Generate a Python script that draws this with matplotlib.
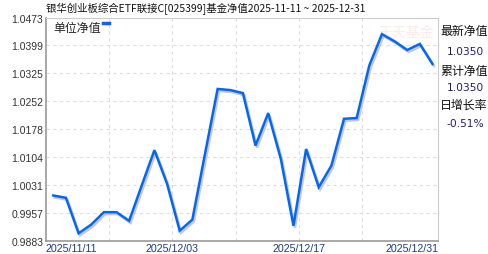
import matplotlib
matplotlib.use("Agg")
import matplotlib.pyplot as plt
import matplotlib.transforms as mtransforms

# unit NAV, one value per published day
nav = [1.0002, 0.9996, 0.9902, 0.9925, 0.9958, 0.9958, 0.9935, 1.0029, 1.0122, 1.0033,
       0.9909, 0.9938, 1.0112, 1.0284, 1.0281, 1.0273, 1.0134, 1.0220, 1.0099, 0.9922,
       1.0125, 1.0024, 1.0081, 1.0205, 1.0207, 1.0346, 1.0429, 1.0410, 1.0387, 1.0403,
       1.0350]
x_labels = ["2025/11/11", "2025/12/03", "2025/12/17", "2025/12/31"]
y_ticks = [0.9883, 0.9957, 1.0031, 1.0104, 1.0178, 1.0252, 1.0325, 1.0399, 1.0473]
side_labels = ["最新净值", "累计净值", "日增长率"]
side_values = ["1.0350", "1.0350", "-0.51%"]

cjk = ["Noto Sans CJK SC", "DejaVu Sans"]
latin = ["Liberation Sans", "DejaVu Sans"]

fig = plt.figure(figsize=(4.88, 2.55), dpi=100)
ax = fig.add_axes([46 / 488, 1 - 241.5 / 255, 392 / 488, 223 / 255])

xs = list(range(len(nav)))
shadow = mtransforms.offset_copy(ax.transData, fig=fig, x=1.5, y=-2, units="dots")
ax.plot(xs, nav, color="#c8c8c8", lw=1.8, transform=shadow, solid_joinstyle="miter")
ax.plot(xs, nav, color="#0066ff", lw=1.8, solid_joinstyle="miter")

ax.set_xlim(-0.578, 30.435)
ax.set_ylim(y_ticks[0], y_ticks[-1])
ax.set_yticks(y_ticks)
ax.set_yticklabels([f"{v:.4f}" for v in y_ticks], family=latin, fontsize=7.5, color="#333333")
ax.tick_params(length=0, pad=2)

# dashed grid
for v in y_ticks[1:-1]:
    ax.axhline(v, color="#dddddd", lw=0.8, ls=(0, (3, 3)), zorder=0)
for gx in [4.42, 9.42, 14.42, 19.42, 24.42]:
    ax.axvline(gx, color="#dddddd", lw=0.8, ls=(0, (3, 3)), zorder=0)

xt = [-0.578, 9.42, 19.42, 30.435]
ax.set_xticks(xt)
ax.set_xticklabels(x_labels, family=latin, fontsize=7.7, color="#1f3a8a")
labs = ax.get_xticklabels()
labs[0].set_ha("left")
labs[-1].set_ha("right")

for s in ["left", "bottom"]:
    ax.spines[s].set_color("#999999")
    ax.spines[s].set_linewidth(1.2)
for s in ["top", "right"]:
    ax.spines[s].set_color("#cccccc")
    ax.spines[s].set_linewidth(0.8)

# legend
ax.text(0.018, 0.955, "单位净值", transform=ax.transAxes, family=cjk, fontsize=8.6,
        color="#222222", va="center", ha="left")
ax.plot([0.146, 0.160], [0.975, 0.975], transform=ax.transAxes, color="#0066ff", lw=2.5)

# faint watermark
ax.text(0.92, 0.935, "天天基金", transform=ax.transAxes, family=cjk, fontsize=10,
        color="#ff8888", alpha=0.18, ha="center", va="center", style="italic", zorder=0)

fig.text(46 / 488, 1 - 9 / 255, "银华创业板综合ETF联接C[025399]基金净值2025-11-11 ~ 2025-12-31",
         family=cjk, fontsize=7.5, color="#111111", ha="left", va="center")

ys = [32, 52, 71, 88, 105, 124]
for i in range(3):
    fig.text(440 / 488, 1 - ys[2 * i] / 255, side_labels[i], family=cjk, fontsize=8.6,
             color="#111111", ha="left", va="center")
    fig.text(484 / 488, 1 - ys[2 * i + 1] / 255, side_values[i], family=["DejaVu Sans"],
             fontsize=7.7, color="#2a1a6a", ha="right", va="center")

fig.savefig("out.png", dpi=100)
